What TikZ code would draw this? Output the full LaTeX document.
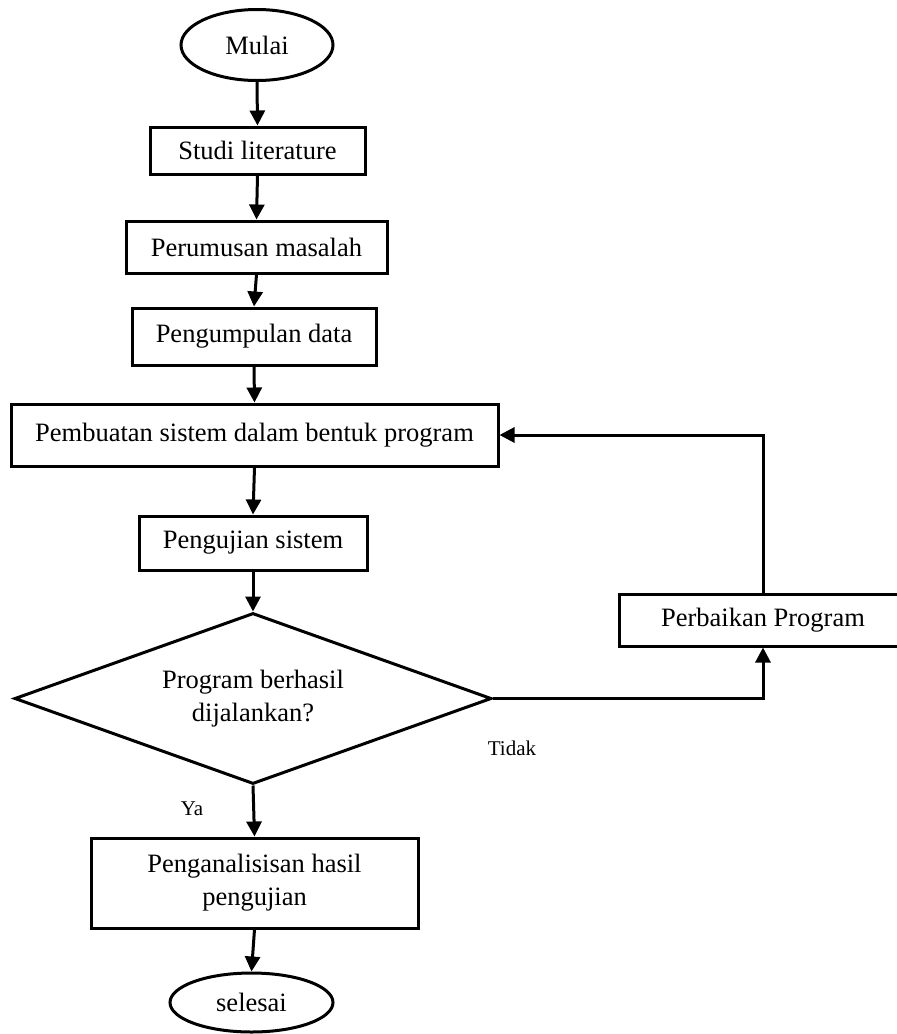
\documentclass[tikz,border=0pt]{standalone}
\usepackage{fontspec}
\setmainfont{Liberation Serif}
\usetikzlibrary{shapes.geometric,arrows.meta}
\begin{document}
\begin{tikzpicture}[x=1pt,y=-1pt,
  every node/.style={font=\fontsize{26.5}{33}\selectfont},
  box/.style={draw,line width=3pt,rectangle,inner sep=0pt,align=center},
  term/.style={draw,line width=3pt,ellipse,inner sep=0pt},
  dec/.style={draw,line width=3pt,diamond,aspect=2.8,inner sep=0pt,align=center},
  lbl/.style={font=\fontsize{21}{24}\selectfont},
  arr/.style={line width=3pt,-{Triangle[width=15pt,length=15pt]}}]
\clip (0,0) rectangle (897,1034);
\node[term,minimum width=152pt,minimum height=71pt] (mulai) at (257,45) {Mulai};
\node[box,minimum width=215pt,minimum height=47pt] (studi) at (257.5,150.5) {Studi literature};
\node[box,minimum width=261pt,minimum height=52pt] (rumus) at (256.5,247) {Perumusan masalah};
\node[box,minimum width=244pt,minimum height=57pt] (kumpul) at (254,336.5) {Pengumpulan data};
\node[box,minimum width=487pt,minimum height=62pt] (buat) at (254.5,435) {Pembuatan sistem dalam bentuk program};
\node[box,minimum width=228pt,minimum height=54pt] (uji) at (253,543) {Pengujian sistem};
\node[dec,minimum width=477pt,minimum height=171pt] (dec) at (253,698.5) {Program berhasil\\dijalankan?};
\node[box,minimum width=288pt,minimum height=52pt] (baik) at (763,620) {Perbaikan Program};
\node[box,minimum width=327pt,minimum height=90pt] (analisa) at (254.5,883) {Penganalisisan hasil\\pengujian};
\node[term,minimum width=163pt,minimum height=59pt] (selesai) at (251.5,1002.5) {selesai};
\node[lbl] (ya) at (192,809) {Ya};
\node[lbl] (tidak) at (512,748) {Tidak};
\draw[arr] (mulai.south) -- (studi.north);
\draw[arr] (studi.south) -- (rumus.north);
\draw[arr] (rumus.south) -- (kumpul.north);
\draw[arr] (kumpul.south) -- (buat.north);
\draw[arr] (buat.south) -- (uji.north);
\draw[arr] (uji.south) -- (dec.north);
\draw[arr] (dec.south) -- (analisa.north);
\draw[arr] (analisa.south) -- (selesai.north);
\draw[arr] (dec.east) -| (baik.south);
\draw[arr] (baik.north) |- (buat.east);
\end{tikzpicture}
\end{document}
